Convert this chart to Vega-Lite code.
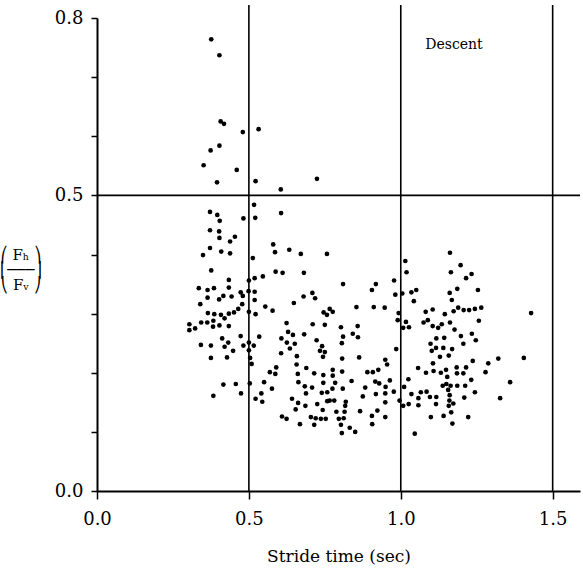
{
  "$schema": "https://vega.github.io/schema/vega-lite/v6.json",
  "width": 483,
  "height": 473,
  "autosize": "none",
  "padding": {"left": 97, "top": 18, "right": 3, "bottom": 86},
  "background": "white",
  "config": {
    "view": {"stroke": null},
    "font": "DejaVu Serif",
    "axis": {"labelFont": "DejaVu Serif", "titleFont": "DejaVu Serif", "labelColor": "black", "titleColor": "black", "domainColor": "black", "tickColor": "black", "titleFontWeight": "normal", "grid": false, "labelFlush": false}
  },
  "datasets": {
    "pts": [
      {"t":0.376,"r":0.764},{"t":0.403,"r":0.737},{"t":0.407,"r":0.625},{"t":0.418,"r":0.621},{"t":0.480,"r":0.607},{"t":0.532,"r":0.612},{"t":0.403,"r":0.584},{"t":0.374,"r":0.576},{"t":0.351,"r":0.551},{"t":0.460,"r":0.543},{"t":0.395,"r":0.522},{"t":0.522,"r":0.524},{"t":0.605,"r":0.510},{"t":0.724,"r":0.528},
      {"t":0.517,"r":0.484},{"t":0.372,"r":0.472},{"t":0.396,"r":0.467},{"t":0.606,"r":0.470},{"t":0.482,"r":0.461},{"t":0.521,"r":0.462},{"t":0.404,"r":0.457},{"t":0.372,"r":0.441},{"t":0.402,"r":0.439},{"t":0.454,"r":0.430},{"t":0.403,"r":0.428},{"t":0.438,"r":0.422},{"t":0.580,"r":0.417},{"t":0.372,"r":0.411},{"t":0.409,"r":0.405},{"t":0.438,"r":0.402},{"t":0.349,"r":0.399},{"t":0.586,"r":0.404},{"t":0.633,"r":0.408},{"t":0.671,"r":0.401},{"t":0.513,"r":0.394},{"t":0.376,"r":0.373},{"t":0.588,"r":0.371},{"t":0.611,"r":0.369},{"t":0.681,"r":0.369},{"t":0.546,"r":0.363},{"t":0.519,"r":0.360},{"t":0.434,"r":0.357},{"t":0.500,"r":0.356},{"t":0.335,"r":0.343},{"t":0.364,"r":0.340},{"t":0.385,"r":0.343},{"t":0.434,"r":0.344},{"t":0.473,"r":0.336},{"t":0.480,"r":0.330},{"t":0.499,"r":0.338},{"t":0.519,"r":0.337},{"t":0.364,"r":0.327},{"t":0.402,"r":0.324},{"t":0.416,"r":0.330},{"t":0.443,"r":0.329},{"t":0.519,"r":0.323},{"t":0.680,"r":0.329},{"t":0.340,"r":0.316},{"t":0.478,"r":0.316},{"t":0.554,"r":0.312},{"t":0.578,"r":0.305},{"t":0.648,"r":0.318},{"t":0.465,"r":0.308},{"t":0.365,"r":0.301},{"t":0.386,"r":0.299},{"t":0.408,"r":0.298},{"t":0.434,"r":0.300},{"t":0.451,"r":0.302},{"t":0.500,"r":0.303},{"t":0.522,"r":0.299},{"t":0.420,"r":0.292},{"t":0.304,"r":0.282},{"t":0.343,"r":0.285},{"t":0.363,"r":0.285},{"t":0.383,"r":0.288},{"t":0.624,"r":0.284},{"t":0.403,"r":0.280},{"t":0.382,"r":0.278},{"t":0.434,"r":0.279},{"t":0.304,"r":0.272},{"t":0.323,"r":0.275},{"t":0.629,"r":0.269},{"t":0.645,"r":0.264},{"t":0.682,"r":0.265},{"t":0.412,"r":0.258},{"t":0.473,"r":0.262},{"t":0.534,"r":0.261},{"t":0.607,"r":0.258},
      {"t":0.342,"r":0.247},{"t":0.375,"r":0.246},{"t":0.432,"r":0.251},{"t":0.420,"r":0.244},{"t":0.482,"r":0.246},{"t":0.500,"r":0.251},{"t":0.516,"r":0.246},{"t":0.625,"r":0.251},{"t":0.651,"r":0.249},{"t":0.635,"r":0.241},{"t":0.448,"r":0.237},{"t":0.500,"r":0.238},{"t":0.606,"r":0.233},{"t":0.375,"r":0.225},{"t":0.428,"r":0.226},{"t":0.504,"r":0.225},{"t":0.658,"r":0.228},{"t":0.509,"r":0.215},{"t":0.590,"r":0.209},{"t":0.569,"r":0.201},{"t":0.587,"r":0.198},{"t":0.657,"r":0.214},{"t":0.689,"r":0.208},{"t":0.661,"r":0.198},{"t":0.663,"r":0.184},{"t":0.550,"r":0.184},{"t":0.416,"r":0.180},{"t":0.457,"r":0.181},{"t":0.503,"r":0.182},{"t":0.576,"r":0.173},{"t":0.684,"r":0.177},{"t":0.474,"r":0.165},{"t":0.383,"r":0.161},{"t":0.541,"r":0.165},{"t":0.522,"r":0.156},{"t":0.544,"r":0.151},{"t":0.642,"r":0.156},{"t":0.662,"r":0.149},{"t":0.688,"r":0.165},{"t":0.686,"r":0.144},{"t":0.654,"r":0.138},{"t":0.609,"r":0.126},{"t":0.624,"r":0.122},{"t":0.668,"r":0.113},
      {"t":0.757,"r":0.401},{"t":0.810,"r":0.350},{"t":0.918,"r":0.350},{"t":0.905,"r":0.340},{"t":0.978,"r":0.356},{"t":0.982,"r":0.332},{"t":0.709,"r":0.335},{"t":0.718,"r":0.326},{"t":0.746,"r":0.302},{"t":0.757,"r":0.298},{"t":0.766,"r":0.308},{"t":0.776,"r":0.303},{"t":0.854,"r":0.311},{"t":0.911,"r":0.311},{"t":0.947,"r":0.310},{"t":0.993,"r":0.301},{"t":0.990,"r":0.289},{"t":1.017,"r":0.286},{"t":1.008,"r":0.276},{"t":1.027,"r":0.277},{"t":0.710,"r":0.282},{"t":0.750,"r":0.281},{"t":0.803,"r":0.277},{"t":0.858,"r":0.279},{"t":0.723,"r":0.255},{"t":0.741,"r":0.245},{"t":0.810,"r":0.261},{"t":0.806,"r":0.250},{"t":0.842,"r":0.266},{"t":0.859,"r":0.260},{"t":0.985,"r":0.240},
      {"t":0.734,"r":0.237},{"t":0.750,"r":0.235},{"t":0.744,"r":0.227},{"t":0.807,"r":0.224},{"t":0.863,"r":0.226},{"t":0.949,"r":0.222},{"t":0.955,"r":0.214},{"t":0.715,"r":0.199},{"t":0.776,"r":0.205},{"t":0.807,"r":0.202},{"t":0.890,"r":0.201},{"t":0.908,"r":0.201},{"t":0.926,"r":0.205},{"t":0.745,"r":0.196},{"t":0.776,"r":0.195},{"t":0.838,"r":0.186},{"t":0.916,"r":0.185},{"t":0.964,"r":0.187},{"t":0.745,"r":0.183},{"t":0.784,"r":0.183},{"t":0.929,"r":0.182},{"t":0.950,"r":0.176},{"t":0.708,"r":0.175},{"t":0.775,"r":0.173},{"t":0.809,"r":0.173},{"t":0.883,"r":0.175},{"t":0.977,"r":0.168},{"t":0.740,"r":0.166},{"t":0.758,"r":0.167},{"t":0.918,"r":0.164},{"t":0.949,"r":0.165},{"t":0.875,"r":0.160},{"t":0.725,"r":0.147},{"t":0.758,"r":0.152},{"t":0.766,"r":0.153},{"t":0.781,"r":0.153},{"t":0.819,"r":0.151},{"t":0.817,"r":0.144},{"t":0.949,"r":0.150},{"t":0.996,"r":0.153},{"t":1.008,"r":0.144},{"t":1.026,"r":0.147},{"t":0.743,"r":0.137},{"t":0.788,"r":0.134},{"t":0.815,"r":0.134},{"t":0.866,"r":0.135},{"t":0.923,"r":0.136},{"t":0.905,"r":0.127},{"t":0.949,"r":0.125},{"t":0.704,"r":0.125},{"t":0.720,"r":0.123},{"t":0.737,"r":0.122},{"t":0.753,"r":0.122},{"t":0.796,"r":0.122},{"t":0.812,"r":0.123},{"t":0.715,"r":0.112},{"t":0.803,"r":0.112},{"t":0.906,"r":0.113},{"t":0.832,"r":0.107},{"t":0.850,"r":0.100},{"t":0.806,"r":0.098},
      {"t":1.015,"r":0.389},{"t":1.162,"r":0.403},{"t":1.197,"r":0.382},{"t":1.019,"r":0.370},{"t":1.165,"r":0.370},{"t":1.215,"r":0.360},{"t":1.233,"r":0.367},{"t":1.005,"r":0.334},{"t":1.035,"r":0.336},{"t":1.051,"r":0.340},{"t":1.043,"r":0.321},{"t":1.161,"r":0.335},{"t":1.186,"r":0.342},{"t":1.254,"r":0.340},{"t":1.168,"r":0.323},{"t":1.082,"r":0.303},{"t":1.105,"r":0.307},{"t":1.145,"r":0.299},{"t":1.174,"r":0.304},{"t":1.189,"r":0.310},{"t":1.207,"r":0.306},{"t":1.225,"r":0.306},{"t":1.244,"r":0.308},{"t":1.265,"r":0.310},{"t":1.429,"r":0.301},{"t":1.075,"r":0.285},{"t":1.089,"r":0.289},{"t":1.162,"r":0.285},{"t":1.257,"r":0.288},{"t":1.105,"r":0.279},{"t":1.123,"r":0.276},{"t":1.135,"r":0.282},{"t":1.177,"r":0.273},{"t":1.234,"r":0.266},{"t":1.117,"r":0.258},{"t":1.143,"r":0.259},{"t":1.198,"r":0.262},{"t":1.247,"r":0.255},{"t":1.098,"r":0.249},{"t":1.206,"r":0.249},{"t":1.116,"r":0.242},{"t":1.140,"r":0.242},{"t":1.169,"r":0.240},
      {"t":1.102,"r":0.237},{"t":1.129,"r":0.227},{"t":1.158,"r":0.229},{"t":1.321,"r":0.224},{"t":1.405,"r":0.225},{"t":1.288,"r":0.216},{"t":1.237,"r":0.220},{"t":1.106,"r":0.216},{"t":1.057,"r":0.208},{"t":1.083,"r":0.200},{"t":1.108,"r":0.203},{"t":1.132,"r":0.200},{"t":1.149,"r":0.205},{"t":1.184,"r":0.209},{"t":1.215,"r":0.209},{"t":1.185,"r":0.199},{"t":1.206,"r":0.199},{"t":1.279,"r":0.201},{"t":1.153,"r":0.193},{"t":1.232,"r":0.188},{"t":1.025,"r":0.189},{"t":1.360,"r":0.184},{"t":1.138,"r":0.178},{"t":1.150,"r":0.181},{"t":1.164,"r":0.178},{"t":1.186,"r":0.178},{"t":1.212,"r":0.178},{"t":1.011,"r":0.176},{"t":1.156,"r":0.171},{"t":1.035,"r":0.164},{"t":1.066,"r":0.167},{"t":1.085,"r":0.168},{"t":1.096,"r":0.159},{"t":1.117,"r":0.159},{"t":1.058,"r":0.157},{"t":1.161,"r":0.162},{"t":1.244,"r":0.167},{"t":1.209,"r":0.158},{"t":1.327,"r":0.157},{"t":1.160,"r":0.153},{"t":1.058,"r":0.145},{"t":1.116,"r":0.147},{"t":1.158,"r":0.144},{"t":1.173,"r":0.148},{"t":1.166,"r":0.133},{"t":1.099,"r":0.125},{"t":1.141,"r":0.127},{"t":1.222,"r":0.125},{"t":1.170,"r":0.114},{"t":1.046,"r":0.097}
    ],
    "vlines": [{"t": 0.5, "r0": 0, "r1": 0.822}, {"t": 1.0, "r0": 0, "r1": 0.822}, {"t": 1.5, "r0": 0, "r1": 0.822}],
    "hlines": [{"r": 0.5, "t0": 0, "t1": 1.59}],
    "note": [{"t": 1.175, "r": 0.754, "label": "Descent"}]
  },
  "layer": [
    {
      "data": {"name": "vlines"},
      "mark": {"type": "rule", "color": "black", "strokeWidth": 1.6},
      "encoding": {
        "x": {"field": "t", "type": "quantitative", "scale": {"domain": [0, 1.59], "nice": false, "zero": true},
          "axis": {
            "title": "Stride time (sec)",
            "titleFontSize": 17,
            "titlePadding": 20,
            "values": [0, 0.5, 1, 1.5],
            "format": ".1f",
            "labelFontSize": 18,
            "labelPadding": 11,
            "labelFlush": false,
            "tickSize": 8,
            "tickWidth": 1.5,
            "domainWidth": 2
          }},
        "y": {"field": "r0", "type": "quantitative", "scale": {"domain": [0, 0.8], "nice": false},
          "axis": {
            "title": ["⎛ Fₕ ⎞", "⎜───⎟", "⎝ Fᵥ ⎠"],
            "titleAngle": 0,
            "titleFontSize": 15,
            "titleLineHeight": 15,
            "titleAlign": "center",
            "titleBaseline": "middle",
            "titlePadding": 4,
            "values": [0, 0.1, 0.2, 0.3, 0.4, 0.5, 0.6, 0.7, 0.8],
            "labelExpr": "datum.value == 0 || datum.value == 0.5 || datum.value == 0.8 ? format(datum.value, '.1f') : ''",
            "labelFontSize": 18,
            "labelPadding": 8,
            "labelBaseline": "middle",
            "labelFlush": false,
            "tickSize": 6,
            "tickWidth": 1.5,
            "domainWidth": 2
          }},
        "y2": {"field": "r1"}
      }
    },
    {
      "data": {"name": "hlines"},
      "mark": {"type": "rule", "color": "black", "strokeWidth": 1.6},
      "encoding": {
        "x": {"field": "t0", "type": "quantitative"},
        "x2": {"field": "t1"},
        "y": {"field": "r", "type": "quantitative"}
      }
    },
    {
      "data": {"name": "pts"},
      "mark": {"type": "circle", "color": "black", "opacity": 1, "size": 22},
      "encoding": {
        "x": {"field": "t", "type": "quantitative"},
        "y": {"field": "r", "type": "quantitative"}
      }
    },
    {
      "data": {"name": "note"},
      "mark": {"type": "text", "font": "DejaVu Serif", "fontSize": 14, "color": "black", "align": "center", "baseline": "middle"},
      "encoding": {
        "x": {"field": "t", "type": "quantitative"},
        "y": {"field": "r", "type": "quantitative"},
        "text": {"field": "label"}
      }
    }
  ]
}
